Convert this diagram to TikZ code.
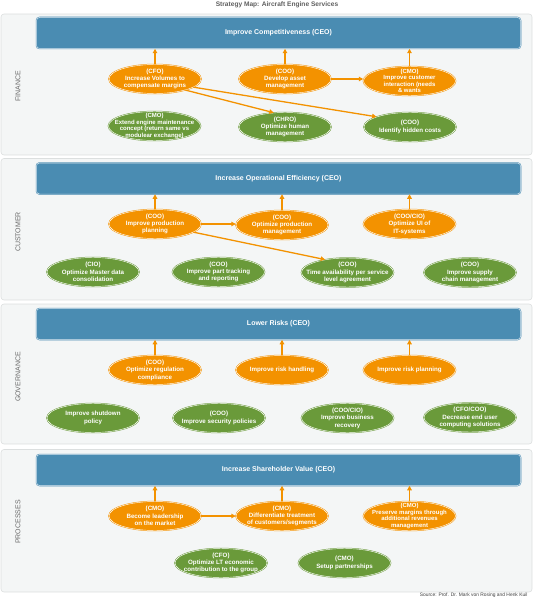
\documentclass[tikz,border=0pt]{standalone}
\usepackage{fontspec}
\setmainfont{Liberation Sans}
\usetikzlibrary{shapes.geometric, arrows.meta}
\definecolor{barblue}{HTML}{4A8CB2}
\definecolor{orng}{HTML}{F39200}
\definecolor{grn}{HTML}{6A9A3A}
\definecolor{panelfill}{HTML}{F4F6F6}
\definecolor{panelline}{HTML}{DCDFDF}
\definecolor{labgray}{HTML}{6A6A6A}
\begin{document}
\begin{tikzpicture}[x=1pt,y=-1pt,
  panel/.style={draw=panelline, fill=panelfill, rounded corners=3pt, line width=0.6pt},
  bar/.style={rectangle, rounded corners=3pt, fill=barblue, draw=barblue, double=white!80!barblue, double distance=0.5pt, line width=0.5pt,
    minimum width=484pt, minimum height=31pt, inner sep=0pt, text=white, font=\bfseries\fontsize{7}{8.5}\selectfont},
  goal/.style={ellipse, inner sep=0pt, minimum width=92pt, minimum height=29pt, double=white, double distance=0.45pt, line width=0.5pt},
  og/.style={goal, fill=orng, draw=orng},
  gg/.style={goal, fill=grn, draw=grn},
  etxt/.style={align=center, text=white, inner sep=0pt, font=\bfseries\fontsize{6.2}{7.4}\selectfont},
  etxtf/.style={etxt, font=\bfseries\fontsize{6}{6.5}\selectfont},
  arr/.style={draw=orng, line width=1.3pt, -{Triangle[length=4.5pt,width=4.5pt]}},
  sect/.style={rotate=90, text=labgray, font=\fontsize{7}{8}\selectfont},
]
\useasboundingbox (0,0) rectangle (533,599);

\node[text=labgray!90!black, font=\bfseries\fontsize{6.6}{8}\selectfont] (title) at (277,4.5) {Strategy Map: Aircraft Engine Services};

% panels
\draw[panel] (1,14) rectangle (532,155);
\draw[panel] (1,158.5) rectangle (532,300);
\draw[panel] (1,304) rectangle (532,444);
\draw[panel] (1,449.5) rectangle (532,592);

\node[sect] (sF) at (18,86) {FINANCE};
\node[sect] (sC) at (18,232) {CUSTOMER};
\node[sect] (sG) at (18,377) {GOVERNANCE};
\node[sect] (sP) at (18,522) {PROCESSES};

% ---------- FINANCE ----------
\node[bar] (b1) at (278.5,33) {Improve Competitiveness (CEO)};
\node[og] (f1) at (155,79) {};
\node[etxt] at (f1) {(CFO)\\Increase Volumes to\\compensate margins};
\node[og] (f2) at (285,79) {};
\node[etxt] at (f2) {(COO)\\Develop asset\\management};
\node[og] (f3) at (409.5,81) {};
\node[etxtf] at (f3) {(CMO)\\Improve customer\\interaction (needs\\\& wants};
\node[gg] (f4) at (154.5,126) {};
\node[etxtf] at (f4) {(CMO)\\Extend engine maintenance\\concept (return same vs\\modulear exchange)};
\node[gg] (f5) at (285,127) {};
\node[etxt] at (f5) {(CHRO)\\Optimize human\\management};
\node[gg] (f6) at (410,127) {};
\node[etxt] at (f6) {(COO)\\Identify hidden costs};

\draw[arr] (f1.north) -- (f1.north |- b1.south);
\draw[arr] (f2.north) -- (f2.north |- b1.south);
\draw[arr] (f3.north) -- (f3.north |- b1.south);
\draw[arr] (f2.east) -- (f2.east -| f3.west);
\draw[arr] (f1.-20) -- (f5.128);
\draw[arr] (f1.-12) -- (f6.163);

% ---------- CUSTOMER ----------
\node[bar] (b2) at (278.5,178.5) {Increase Operational Efficiency (CEO)};
\node[og] (c1) at (155,224) {};
\node[etxt] at (c1) {(COO)\\Improve production\\planning};
\node[og] (c2) at (282,225) {};
\node[etxt] at (c2) {(COO)\\Optimize production\\management};
\node[og] (c3) at (409.5,224) {};
\node[etxt] at (c3) {(COO/CIO)\\Optimize UI of\\IT-systems};
\node[gg] (c4) at (93,272) {};
\node[etxt] at (c4) {(CIO)\\Optimize Master data\\consolidation};
\node[gg] (c5) at (218.5,272) {};
\node[etxt] at (c5) {(COO)\\Improve part tracking\\and reporting};
\node[gg] (c6) at (347.5,272.5) {};
\node[etxt] at (c6) {(COO)\\Time availability per service\\level agreement};
\node[gg] (c7) at (470,272.5) {};
\node[etxt] at (c7) {(COO)\\Improve supply\\chain management};

\draw[arr] (c1.north) -- (c1.north |- b2.south);
\draw[arr] (c2.north) -- (c2.north |- b2.south);
\draw[arr] (c3.north) -- (c3.north |- b2.south);
\draw[arr] (c1.east) -- (c1.east -| c2.west);
\draw[arr] (c1.-12) -- (c6.150);

% ---------- GOVERNANCE ----------
\node[bar] (b3) at (278.5,324) {Lower Risks (CEO)};
\node[og] (g1) at (155,370) {};
\node[etxt] at (g1) {(COO)\\Optimize regulation\\compliance};
\node[og] (g2) at (282,370) {};
\node[etxt] at (g2) {Improve risk handling};
\node[og] (g3) at (409.5,370) {};
\node[etxt] at (g3) {Improve risk planning};
\node[gg] (g4) at (93,418) {};
\node[etxt] at (g4) {Improve shutdown\\policy};
\node[gg] (g5) at (219,418) {};
\node[etxt] at (g5) {(COO)\\Improve security policies};
\node[gg] (g6) at (347.5,418) {};
\node[etxt] at (g6) {(COO/CIO)\\Improve business\\recovery};
\node[gg] (g7) at (470,417.5) {};
\node[etxt] at (g7) {(CFO/COO)\\Decrease end user\\computing solutions};

\draw[arr] (g1.north) -- (g1.north |- b3.south);
\draw[arr] (g2.north) -- (g2.north |- b3.south);
\draw[arr] (g3.north) -- (g3.north |- b3.south);

% ---------- PROCESSES ----------
\node[bar] (b4) at (278.5,470) {Increase Shareholder Value (CEO)};
\node[og] (p1) at (155,516) {};
\node[etxt] at (p1) {(CMO)\\Become leadership\\on the market};
\node[og] (p2) at (282,516) {};
\node[etxt] at (p2) {(CMO)\\Differentiate treatment\\of customers/segments};
\node[og] (p3) at (409.5,516) {};
\node[etxtf] at (p3) {(CMO)\\Preserve margins through\\additional revenues\\management};
\node[gg] (p4) at (221,563) {};
\node[etxt] at (p4) {(CFO)\\Optimize LT economic\\contribution to the group};
\node[gg] (p5) at (344.5,563) {};
\node[etxt] at (p5) {(CMO)\\Setup partnerships};

\draw[arr] (p1.north) -- (p1.north |- b4.south);
\draw[arr] (p2.north) -- (p2.north |- b4.south);
\draw[arr] (p3.north) -- (p3.north |- b4.south);
\draw[arr] (p1.east) -- (p1.east -| p2.west);

\node[anchor=east, text=black!75, font=\fontsize{4.9}{6}\selectfont] (src) at (531,595.5) {Source: Prof. Dr. Mark von Rosing and Henk Kuil};
\end{tikzpicture}
\end{document}
